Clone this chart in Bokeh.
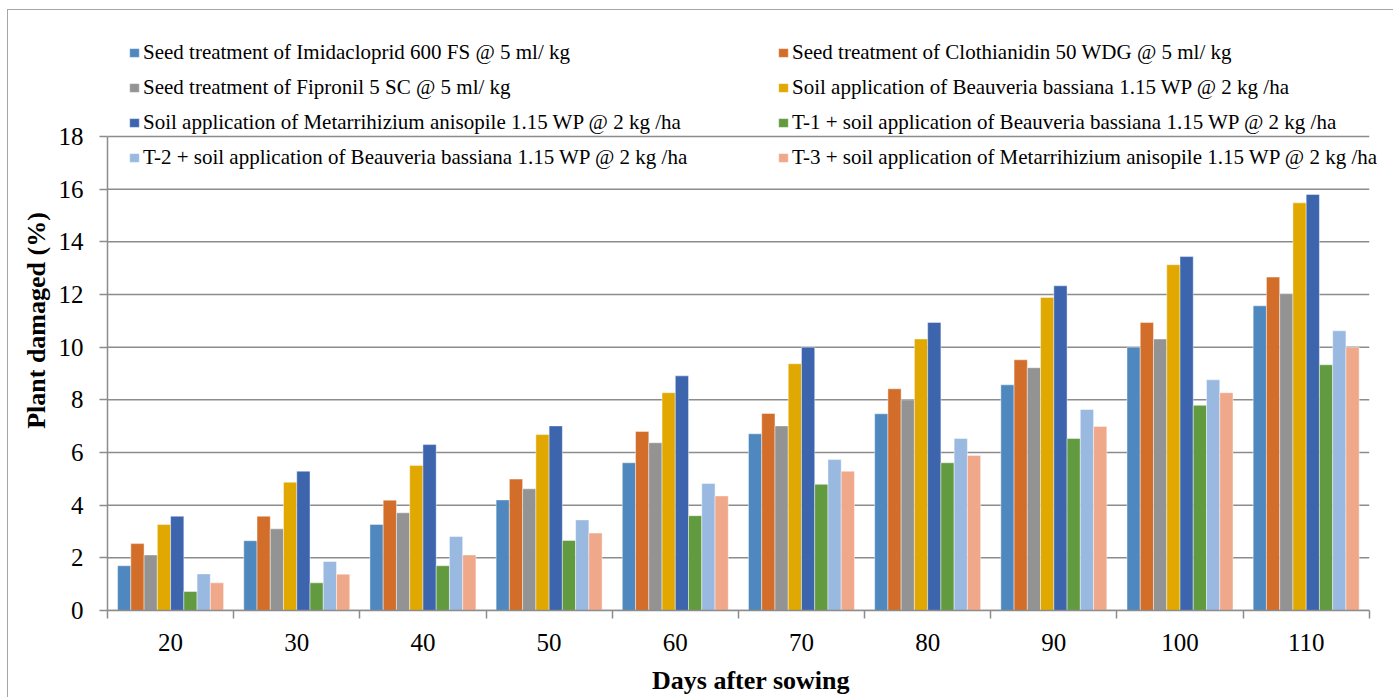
import numpy as np
from bokeh.plotting import figure
from bokeh.models import (ColumnDataSource, FixedTicker, Legend, LegendItem, Range1d)
from bokeh.embed import file_html
from bokeh.resources import INLINE

# ---------------- data ----------------
days = ["20", "30", "40", "50", "60", "70", "80", "90", "100", "110"]

series_names = [
    "Seed treatment of Imidacloprid 600 FS @ 5 ml/ kg",
    "Seed treatment of Clothianidin 50 WDG @ 5 ml/ kg",
    "Seed treatment of Fipronil 5 SC @ 5 ml/ kg",
    "Soil application of Beauveria bassiana 1.15 WP @ 2 kg /ha",
    "Soil application of Metarrihizium anisopile 1.15 WP @ 2 kg /ha",
    "T-1 + soil application of Beauveria bassiana 1.15 WP @ 2 kg /ha",
    "T-2 + soil application of Beauveria bassiana 1.15 WP @ 2 kg /ha",
    "T-3 + soil application of Metarrihizium anisopile 1.15 WP @ 2 kg /ha",
]

imidacloprid = [1.70, 2.65, 3.27, 4.20, 5.61, 6.71, 7.47, 8.57, 10.00, 11.57]
clothianidin = [2.54, 3.58, 4.19, 4.99, 6.80, 7.48, 8.42, 9.52, 10.94, 12.66]
fipronil = [2.11, 3.10, 3.71, 4.62, 6.37, 7.01, 8.00, 9.22, 10.31, 12.03]
beauveria = [3.27, 4.87, 5.51, 6.68, 8.27, 9.37, 10.31, 11.89, 13.13, 15.48]
metarrhizium = [3.58, 5.29, 6.30, 7.01, 8.91, 10.00, 10.94, 12.33, 13.44, 15.80]
t1_beauveria = [0.72, 1.05, 1.70, 2.66, 3.60, 4.79, 5.61, 6.53, 7.79, 9.33]
t2_beauveria = [1.39, 1.86, 2.81, 3.44, 4.82, 5.73, 6.53, 7.63, 8.76, 10.62]
t3_metarrhizium = [1.05, 1.38, 2.11, 2.94, 4.35, 5.29, 5.89, 6.99, 8.27, 9.99]

y_ticks = [0, 2, 4, 6, 8, 10, 12, 14, 16, 18]

all_series = [imidacloprid, clothianidin, fipronil, beauveria,
              metarrhizium, t1_beauveria, t2_beauveria, t3_metarrhizium]
colors = ["#4F88BE", "#D26D2A", "#939393", "#E0A800",
          "#3D65AD", "#629A3F", "#99B9E0", "#F0A88A"]

FONT = "Liberation Serif"
GRID = "#8c8c8c"

# ---------------- figure ----------------
n = len(days)
y_max = y_ticks[-1]
# the frame reaches up to the legend so the legend is not clipped;
# the axis line is bounded to the data range
p = figure(width=1386, height=688, output_backend="svg", toolbar_location=None,
           x_range=Range1d(0, n + 0.2), y_range=Range1d(0, y_max * 580 / 474),
           min_border_left=99, min_border_right=0, min_border_top=20,
           min_border_bottom=88)
p.outline_line_color = None
p.background_fill_color = "white"
p.border_fill_color = "white"
p.styles = {"margin-left": "7px", "margin-top": "9px",
            "border-left": "1px solid #a6a6a6", "border-top": "1px solid #a6a6a6"}

# horizontal gridlines at the y ticks, spanning the categories only
p.segment(x0=0, x1=n, y0=y_ticks, y1=y_ticks, line_color=GRID, line_width=1.5)

centers = np.arange(n) + 0.5
bw = 0.105
renderers = []
for j, (vals, col) in enumerate(zip(all_series, colors)):
    src = ColumnDataSource(dict(x=centers + (j - 3.5) * bw, top=vals))
    r = p.vbar(x="x", top="top", width=bw, bottom=0, source=src,
               fill_color=col, line_color="white", line_alpha=0.55, line_width=0.8)
    renderers.append(r)

# ---------------- axes ----------------
xa = p.xaxis[0]
xa.bounds = (0, n)
xa.ticker = FixedTicker(ticks=list(centers), minor_ticks=list(range(n + 1)))
xa.major_label_overrides = {float(c): d for c, d in zip(centers, days)}
xa.major_tick_line_color = None
xa.major_tick_in = 0
xa.major_tick_out = 0
xa.minor_tick_in = 0
xa.minor_tick_out = 8
xa.minor_tick_line_color = GRID
xa.minor_tick_line_width = 1.5
xa.axis_line_color = GRID
xa.axis_line_width = 1.5
xa.major_label_text_font = FONT
xa.major_label_text_font_size = "25px"
xa.major_label_text_color = "black"
xa.major_label_standoff = 15
xa.axis_label = "Days after sowing"
xa.axis_label_text_font = FONT
xa.axis_label_text_font_size = "26px"
xa.axis_label_text_font_style = "bold"
xa.axis_label_text_color = "black"
xa.axis_label_standoff = 12

ya = p.yaxis[0]
ya.bounds = (0, y_max)
ya.ticker = FixedTicker(ticks=y_ticks)
ya.major_tick_in = 0
ya.major_tick_out = 8
ya.major_tick_line_color = GRID
ya.major_tick_line_width = 1.5
ya.minor_tick_line_color = None
ya.axis_line_color = GRID
ya.axis_line_width = 1.5
ya.major_label_text_font = FONT
ya.major_label_text_font_size = "25px"
ya.major_label_text_color = "black"
ya.major_label_standoff = 16
ya.axis_label = "Plant damaged (%)"
ya.axis_label_text_font = FONT
ya.axis_label_text_font_size = "26px"
ya.axis_label_text_font_style = "bold"
ya.axis_label_text_color = "black"
ya.axis_label_standoff = 5

p.xgrid.grid_line_color = None
p.ygrid.grid_line_color = None

# ---------------- legends (two columns, row-major order) ----------------
def make_legend(idxs, loc):
    items = [LegendItem(label=series_names[i], renderers=[renderers[i]]) for i in idxs]
    leg = Legend(items=items, location=loc)
    leg.background_fill_alpha = 0
    leg.border_line_color = None
    leg.padding = 0
    leg.margin = 0
    leg.spacing = 10
    leg.glyph_width = 12
    leg.glyph_height = 11
    leg.label_standoff = 3
    leg.label_height = 21
    leg.label_text_font = FONT
    leg.label_text_font_size = "21px"
    leg.label_text_color = "black"
    return leg

p.add_layout(make_legend([0, 2, 4, 6], (21, 440)))
p.add_layout(make_legend([1, 3, 5, 7], (670, 440)))

open("out.html", "w").write(file_html(p, INLINE))
